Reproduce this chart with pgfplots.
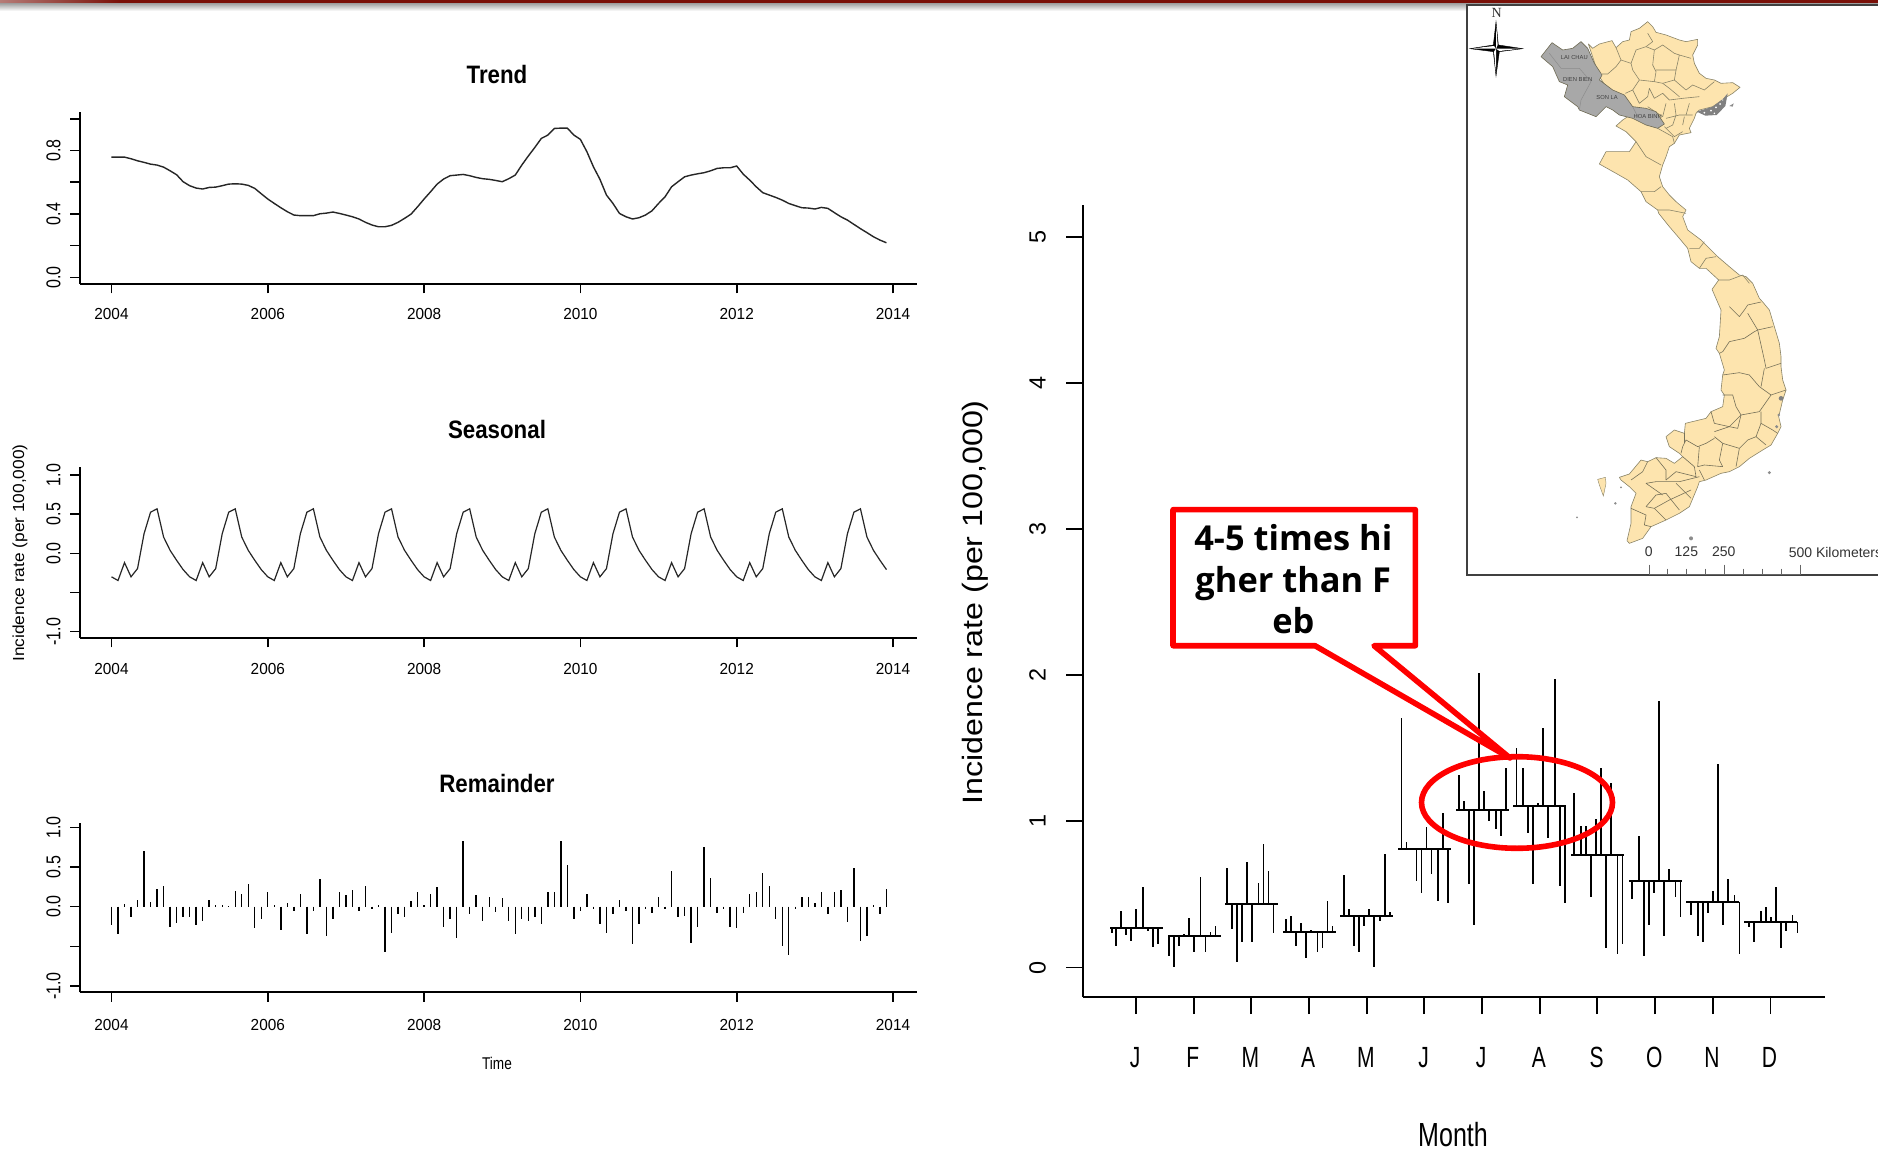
\documentclass[border=0pt]{standalone}
\usepackage{fontspec}
\setmainfont{Liberation Sans}
\newfontfamily\callfont{Open Sans}
\usepackage{pgfplots}
\usepackage{pgfplotstable}
\pgfplotsset{compat=1.18}
\definecolor{mapy}{HTML}{FDE4AE}
\definecolor{mapg}{HTML}{A8A8A8}
\definecolor{mapb}{HTML}{8A8468}
\definecolor{barred}{HTML}{7A1008}
\newcommand{\fs}[1]{\fontsize{#1}{#1}\selectfont}

\pgfplotstableread{
m dz mean v
1 -73 0.27 0.234
1 -59 0.27 0.149
1 -44 0.27 0.384
1 -29 0.27 0.220
1 -14 0.27 0.179
1 1 0.27 0.400
1 21 0.27 0.551
1 36 0.27 0.247
1 51 0.27 0.138
1 66 0.27 0.163
2 -75 0.213 0.081
2 -60 0.213 0.000
2 -45 0.213 0.149
2 -30 0.213 0.229
2 -15 0.213 0.341
2 0 0.213 0.108
2 20 0.213 0.622
2 35 0.213 0.108
2 50 0.213 0.245
2 65 0.213 0.286
3 -74 0.435 0.679
3 -59 0.435 0.263
3 -44 0.435 0.040
3 -29 0.435 0.177
3 -14 0.435 0.720
3 1 0.435 0.177
3 21 0.435 0.579
3 36 0.435 0.846
3 51 0.435 0.663
3 66 0.435 0.234
4 -70 0.241 0.330
4 -55 0.241 0.355
4 -40 0.241 0.149
4 -25 0.241 0.302
4 -10 0.241 0.067
4 5 0.241 0.259
4 25 0.241 0.108
4 40 0.241 0.136
4 55 0.241 0.453
4 70 0.241 0.286
5 -69 0.353 0.636
5 -54 0.353 0.398
5 -39 0.353 0.149
5 -24 0.353 0.108
5 -9 0.353 0.286
5 6 0.353 0.398
5 21 0.353 0.000
5 40 0.353 0.316
5 55 0.353 0.775
5 70 0.353 0.382
6 -69 0.811 1.711
6 -54 0.811 0.859
6 -39 0.811 0.807
6 -24 0.811 0.594
6 -9 0.811 0.512
6 6 0.811 0.960
6 21 0.811 0.638
6 41 0.811 0.458
6 56 0.811 1.056
6 71 0.811 0.444
7 -69 1.079 1.320
7 -54 1.079 1.140
7 -39 1.079 0.569
7 -24 1.079 0.291
7 -9 1.079 2.019
7 6 1.079 1.209
7 21 1.079 1.001
7 41 1.079 0.948
7 56 1.079 0.903
7 71 1.079 1.364
8 -70 1.106 1.501
8 -50 1.106 1.364
8 -35 1.106 0.919
8 -20 1.106 0.569
8 -5 1.106 1.124
8 10 1.106 1.642
8 25 1.106 0.889
8 45 1.106 1.978
8 60 1.106 0.556
8 75 1.106 0.444
9 -70 0.773 1.195
9 -50 0.773 0.971
9 -35 0.773 0.971
9 -20 0.773 0.485
9 -5 0.773 1.015
9 10 0.773 1.364
9 25 0.773 0.136
9 40 0.773 1.266
9 60 0.773 0.095
9 75 0.773 0.163
10 -69 0.592 0.471
10 -49 0.592 0.903
10 -34 0.592 0.081
10 -19 0.592 0.291
10 -4 0.592 0.512
10 11 0.592 1.823
10 26 0.592 0.218
10 41 0.592 0.677
10 61 0.592 0.485
10 76 0.592 0.348
11 -65 0.451 0.359
11 -45 0.451 0.218
11 -30 0.451 0.177
11 -15 0.451 0.373
11 0 0.451 0.524
11 15 0.451 1.391
11 30 0.451 0.291
11 45 0.451 0.608
11 65 0.451 0.499
11 80 0.451 0.095
12 -64 0.311 0.275
12 -49 0.311 0.177
12 -29 0.311 0.384
12 -14 0.311 0.412
12 1 0.311 0.343
12 16 0.311 0.553
12 31 0.311 0.136
12 46 0.311 0.247
12 66 0.311 0.357
12 81 0.311 0.234
}\monthdata

\pgfplotstableread{
m mean
1.01 0.27
2.01 0.213
3.00 0.435
4.00 0.241
5.00 0.353
6.00 0.811
7.00 1.079
8.00 1.106
9.00 0.773
10.00 0.592
11.00 0.451
12.00 0.311
}\monthmean

\pgfplotsset{
  leftpanel/.style={
    scale only axis, clip=false,
    axis x line*=bottom, axis y line*=left,
    width=418.5pt,
    xmin=2003.597, xmax=2014.307,
    xtick={2004,2006,2008,2010,2012,2014},
    xticklabels={2004,2006,2008,2010,2012,2014},
    tick align=outside,
    major tick length=4.8pt,
    axis line style={line width=0.9pt,black},
    tick style={line width=0.8pt,black},
    xticklabel style={font=\fs{8}, xscale=0.96, inner sep=0pt, text height=6pt},
    xticklabel shift=7pt,
    yticklabel style={font=\fs{10}, rotate=90, xscale=0.8, anchor=south, inner sep=0pt, text depth=0pt},
    yticklabel shift=4.8pt,
  }
}

\begin{document}
\begin{tikzpicture}
\clip (0pt,0pt) rectangle (939pt,-574.5pt);
\path[fill=white] (0pt,0pt) rectangle (939pt,-574.5pt);

% top bar and its soft shadow
\shade[top color=black!40, bottom color=white] (0pt,-1.35pt) rectangle (939pt,-5.5pt);
\shade[left color=barred!55, right color=barred] (0pt,0pt) rectangle (60pt,-1.35pt);
\fill[barred] (60pt,0pt) rectangle (939pt,-1.35pt);

% ---- Trend
\begin{axis}[leftpanel, at={(40pt,-141.85pt)}, anchor=south west,
  height=85.95pt, ymin=-0.04, ymax=1.044,
  ytick={0,0.2,0.4,0.6,0.8,1}, yticklabels={0.0,,0.4,,0.8,}]
\addplot[black!85, line width=0.7pt] table[row sep=crcr, header=false, x expr=2004+\coordindex/12, y index=0] {
0.758\\0.758\\0.758\\0.748\\0.735\\0.725\\0.714\\0.708\\0.695\\0.672\\0.647\\0.603\\
0.578\\0.563\\0.557\\0.567\\0.569\\0.578\\0.588\\0.590\\0.588\\0.580\\0.561\\0.527\\
0.494\\0.466\\0.439\\0.414\\0.393\\0.389\\0.389\\0.389\\0.401\\0.405\\0.412\\0.403\\
0.393\\0.382\\0.368\\0.347\\0.330\\0.319\\0.319\\0.328\\0.347\\0.372\\0.399\\0.445\\
0.494\\0.540\\0.588\\0.620\\0.641\\0.645\\0.649\\0.641\\0.630\\0.622\\0.618\\0.611\\
0.603\\0.622\\0.645\\0.708\\0.765\\0.819\\0.876\\0.897\\0.939\\0.941\\0.941\\0.897\\
0.870\\0.792\\0.697\\0.618\\0.519\\0.466\\0.403\\0.382\\0.368\\0.376\\0.393\\0.420\\
0.466\\0.508\\0.571\\0.603\\0.634\\0.645\\0.653\\0.660\\0.672\\0.687\\0.691\\0.691\\
0.702\\0.651\\0.613\\0.571\\0.534\\0.519\\0.504\\0.487\\0.466\\0.452\\0.439\\0.437\\
0.431\\0.441\\0.435\\0.408\\0.382\\0.361\\0.334\\0.307\\0.282\\0.256\\0.235\\0.218\\
};
\end{axis}

% ---- Seasonal
\begin{axis}[leftpanel, at={(40pt,-318.85pt)}, anchor=south west,
  height=85.2pt, ymin=-1.077, ymax=1.098, xticklabel shift=7.6pt,
  ytick={-1,-0.5,0,0.5,1}, yticklabels={-1.0,,0.0,0.5,1.0}]
\addplot[black!85, line width=0.6pt] table[row sep=crcr, header=false, x expr=2004+\coordindex/12, y index=0] {
-0.30\\-0.347\\-0.119\\-0.30\\-0.195\\0.25\\0.525\\0.568\\0.208\\0.038\\-0.089\\-0.208\\
-0.30\\-0.347\\-0.119\\-0.30\\-0.195\\0.25\\0.525\\0.568\\0.208\\0.038\\-0.089\\-0.208\\
-0.30\\-0.347\\-0.119\\-0.30\\-0.195\\0.25\\0.525\\0.568\\0.208\\0.038\\-0.089\\-0.208\\
-0.30\\-0.347\\-0.119\\-0.30\\-0.195\\0.25\\0.525\\0.568\\0.208\\0.038\\-0.089\\-0.208\\
-0.30\\-0.347\\-0.119\\-0.30\\-0.195\\0.25\\0.525\\0.568\\0.208\\0.038\\-0.089\\-0.208\\
-0.30\\-0.347\\-0.119\\-0.30\\-0.195\\0.25\\0.525\\0.568\\0.208\\0.038\\-0.089\\-0.208\\
-0.30\\-0.347\\-0.119\\-0.30\\-0.195\\0.25\\0.525\\0.568\\0.208\\0.038\\-0.089\\-0.208\\
-0.30\\-0.347\\-0.119\\-0.30\\-0.195\\0.25\\0.525\\0.568\\0.208\\0.038\\-0.089\\-0.208\\
-0.30\\-0.347\\-0.119\\-0.30\\-0.195\\0.25\\0.525\\0.568\\0.208\\0.038\\-0.089\\-0.208\\
-0.30\\-0.347\\-0.119\\-0.30\\-0.195\\0.25\\0.525\\0.568\\0.208\\0.038\\-0.089\\-0.208\\
};
\end{axis}

% ---- Remainder
\begin{axis}[leftpanel, at={(40pt,-496.15pt)}, anchor=south west,
  height=84.8pt, ymin=-1.08, ymax=1.059, xticklabel shift=8.2pt,
  ytick={-1,-0.5,0,0.5,1}, yticklabels={-1.0,,0.0,0.5,1.0}]
\addplot[ycomb, black, line width=0.7pt, no markers] table[row sep=crcr, header=false, x expr=2004+\coordindex/12, y index=0] {
-0.231\\-0.349\\0.034\\-0.134\\0.084\\0.706\\0.063\\0.223\\0.265\\-0.252\\-0.21\\-0.126\\
-0.134\\-0.231\\-0.176\\0.084\\0.025\\0.025\\0.008\\0.202\\0.164\\0.286\\-0.273\\-0.151\\
0.185\\0.025\\-0.294\\0.042\\-0.055\\0.164\\-0.349\\-0.05\\0.345\\-0.37\\-0.155\\0.185\\
0.147\\0.206\\-0.05\\0.265\\-0.034\\0.025\\-0.576\\-0.332\\-0.097\\-0.134\\0.067\\0.185\\
0.025\\0.164\\0.244\\-0.252\\-0.155\\-0.391\\0.828\\-0.097\\0.147\\-0.176\\0.126\\-0.071\\
0.105\\-0.176\\-0.349\\-0.155\\-0.176\\-0.134\\-0.214\\0.185\\0.185\\0.828\\0.525\\-0.155\\
-0.055\\0.164\\-0.034\\-0.214\\-0.332\\-0.092\\0.084\\-0.055\\-0.471\\-0.214\\-0.034\\-0.076\\
0.126\\-0.034\\0.445\\-0.134\\-0.113\\-0.454\\-0.252\\0.748\\0.366\\-0.076\\-0.034\\-0.252\\
-0.273\\-0.076\\0.164\\0.185\\0.424\\0.265\\-0.155\\-0.492\\-0.609\\-0.034\\0.126\\0.126\\
0.042\\0.185\\-0.092\\0.185\\0.206\\-0.193\\0.483\\-0.433\\-0.374\\0.025\\-0.092\\0.227\\
};
\end{axis}

% ---- Month plot
\begin{axis}[scale only axis, clip=false, at={(541.65pt,-498.5pt)}, anchor=south west,
  width=370.85pt, height=396pt,
  axis x line*=bottom, axis y line*=left,
  xmin=0.0862, xmax=12.947, ymin=-0.202, ymax=5.219,
  xtick={1,...,12}, xticklabels={J,F,M,A,M,J,J,A,S,O,N,D},
  ytick={0,1,2,3,4,5}, yticklabels={0,1,2,3,4,5},
  tick align=outside, major tick length=8.5pt,
  axis line style={line width=0.9pt,black},
  tick style={line width=0.9pt,black},
  xticklabel style={font=\fs{14.6}, xscale=0.72, xshift=-0.6pt, inner sep=0pt, text height=10.4pt},
  xticklabel shift=16.2pt,
  yticklabel style={font=\fs{11.7}, rotate=90, anchor=south, inner sep=0pt, text depth=0pt},
  yticklabel shift=10.2pt]
\addplot[draw=none, no markers, error bars/.cd, y dir=plus, y explicit, error mark=none,
  error bar style={draw=black, line width=0.85pt}]
  table[x expr=\thisrow{m}+\thisrow{dz}/173, y=mean, y error plus expr=\thisrow{v}-\thisrow{mean}] {\monthdata};
\addplot[draw=none, no markers, error bars/.cd, x dir=both, x fixed=0.46, error mark=none,
  error bar style={draw=black, line width=1pt}]
  table[x=m, y=mean] {\monthmean};
\end{axis}

% ---- texts and annotations in image pixels
\begin{scope}[x=0.5pt,y=-0.5pt]
\node[font=\bfseries\fs{12.6}, xscale=0.885] at (497,74) {Trend};
\node[font=\bfseries\fs{12.6}, xscale=0.885] at (497,429) {Seasonal};
\node[font=\bfseries\fs{12.6}, xscale=0.885] at (497,783) {Remainder};
\node[font=\fs{8}, rotate=90, xscale=1.08] at (20,553) {Incidence rate (per 100,000)};
\node[font=\fs{8.5}, xscale=0.8] at (497,1063) {Time};
\node[font=\fs{14}, rotate=90, xscale=1.15] at (975.5,602.5) {Incidence rate (per 100,000)};
\node[font=\fs{16.7}, xscale=0.75, inner sep=0pt] at (1453,1135) {Month};

% callout
\draw[red, line width=2.8pt, line join=round, fill=white]
  (1173,509.7) -- (1415.4,509.7) -- (1415.4,645.7) -- (1374,645.7) -- (1510,758) -- (1315,645.7) -- (1173,645.7) -- cycle;
\draw[red, line width=2.8pt] (1517,802.5) ellipse [x radius=95.5, y radius=45.8];
\node[font=\callfont\bfseries\fs{17.2}, black] at (1293.3,538) {4-5 times hi};
\node[font=\callfont\bfseries\fs{17.2}, black] at (1293.3,583.5) {gher than F};
\node[font=\callfont\bfseries\fs{17.2}, black] at (1293.3,620.7) {eb};

% map frame
\draw[black!75, line width=0.9pt, fill=white] (1900,5) -- (1467,5) -- (1467,575.3) -- (1900,575.3);
\end{scope}

% map in the units of the map crop
\begin{scope}[shift={(733pt,0pt)},x=0.16667pt,y=-0.16667pt]
\draw[mapb, fill=mapy, line width=0.3pt, line join=round]
(367,132)--(380,145)--(400,132)--(438,122)--(450,143)--(470,125)--(490,120)--(495,95)--(520,85)--(545,65)--(560,80)--(570,97)--(600,105)--(640,120)--(660,125)--(695,118)--(695,135)--(680,165)--(685,190)--(700,220)--(720,235)--(745,240)--(765,250)--(800,248)--(822,262)--(800,280)--(775,295)--(740,320)--(700,330)--(690,340)--(685,355)--(670,385)--(675,398)--(640,405)--(625,430)--(610,440)--(600,470)--(590,495)--(580,530)--(590,560)--(610,585)--(630,605)--(660,630)--(650,650)--(665,690)--(705,720)--(730,745)--(755,770)--(790,800)--(820,825)--(840,830)--(860,850)--(880,895)--(890,906)--(910,930)--(925,980)--(940,1030)--(945,1070)--(945,1100)--(950,1140)--(960,1170)--(950,1200)--(938,1250)--(945,1280)--(935,1300)--(915,1335)--(890,1350)--(850,1375)--(820,1400)--(790,1415)--(765,1420)--(720,1440)--(700,1445)--(695,1460)--(670,1520)--(640,1540)--(600,1560)--(555,1580)--(530,1615)--(490,1630)--(483,1622)--(495,1570)--(495,1520)--(510,1480)--(490,1460)--(465,1440)--(460,1432)--(490,1422)--(525,1380)--(545,1385)--(570,1373)--(600,1375)--(625,1390)--(650,1370)--(640,1360)--(610,1340)--(600,1310)--(625,1290)--(655,1300)--(658,1270)--(720,1255)--(735,1235)--(770,1220)--(775,1185)--(765,1170)--(770,1125)--(775,1110)--(760,1060)--(750,1045)--(760,1010)--(765,930)--(738,868)--(758,840)--(720,805)--(700,805)--(675,785)--(665,745)--(640,715)--(610,680)--(578,640)--(575,630)--(540,605)--(525,575)--(485,540)--(450,520)--(400,492)--(420,455)--(490,455)--(510,425)--(480,395)--(450,378)--(470,360)--(500,340)--(440,290)--(400,230)--cycle;
\fill[mapy,draw=mapb,line width=0.2pt] (395,1438)--(418,1432)--(420,1450)--(412,1488)--(400,1455)--cycle;
% northern provinces
\begin{scope}[mapb, line width=0.3pt, line join=round]
\draw (450,143)--(465,180)--(495,190)--(510,150)--(540,140)--(560,125)--(545,100);
\draw (465,180)--(450,200)--(425,222)--(408,222);
\draw (495,190)--(500,210)--(520,240)--(500,270)--(478,280);
\draw (540,140)--(565,150)--(560,195)--(570,215)--(565,245)--(520,240);
\draw (565,150)--(590,135)--(625,160)--(640,165)--(630,210)--(570,210);
\draw (640,165)--(675,175);
\draw (630,210)--(625,240)--(590,250)--(565,245);
\draw (625,240)--(660,270)--(680,255)--(715,270)--(745,245);
\draw (500,270)--(520,310)--(545,290)--(550,265)--(565,295)--(590,280)--(610,300);
\draw (590,250)--(610,265)--(640,290);
\draw (545,320)--(590,350)--(600,310);
\draw (610,300)--(650,295)--(700,290);
\draw (600,355)--(640,345)--(680,345);
\draw (625,310)--(630,345)--(620,375)--(600,385);
\draw (670,310)--(660,345);
\draw (595,380)--(625,410)--(650,395);
\draw (655,350)--(650,375);
\draw (510,425)--(540,470)--(585,495);
\draw (575,385)--(620,410)--(625,430);
\draw (525,575)--(565,575)--(585,560);
\draw (575,630)--(610,630)--(660,640);
\draw (670,745)--(700,745)--(715,725);
\draw (700,805)--(720,775)--(750,770);
\draw (758,840)--(790,840)--(830,825)--(850,850);
\end{scope}
% grey provinces
\draw[mapb!80!black, fill=mapg, line width=0.3pt, line join=round]
(225,170)--(258,128)--(290,150)--(320,145)--(345,125)--(365,145)--(385,190)--(408,225)--(400,240)--(440,270)--(475,285)--(500,320)--(540,325)--(570,335)--(595,372)--(575,385)--(540,375)--(500,355)--(460,345)--(440,330)--(420,320)--(390,350)--(340,330)--(335,320)--(295,290)--(305,255)--(280,245)--(260,200)--cycle;
\draw[black!45, line width=0.25pt] (250,160)--(285,205)--(340,205)--(375,245)--(345,300)--(340,330);
\draw[black!45, line width=0.25pt] (500,320)--(515,350);
\node[font=\fs{2.9},black!75] at (325,174) {LAI CHAU};
\node[font=\fs{2.9},black!75] at (335,240) {DIEN BIEN};
\node[font=\fs{2.9},black!75] at (423,293) {SON LA};
\node[font=\fs{2.9},black!75] at (545,350) {HOA BINH};
% Ha Long islands
\fill[black!50] (692,335)--(740,320)--(770,298)--(785,280)--(778,318)--(752,345)--(718,347)--cycle;
\fill[white] (715,338) circle (3) (735,332) circle (3) (750,322) circle (3) (762,312) circle (3) (745,340) circle (2.5) (770,300) circle (2);
\fill[black!45] (790,318)--(803,310)--(800,320)--cycle;
% compass
\fill[black] (90,65)--(97,135)--(170,146)--(100,155)--(90,228)--(82,155)--(12,146)--(82,135)--cycle;
\fill[white] (90,65)--(95,135)--(90,146)--cycle;
\fill[white] (170,146)--(100,153)--(90,146)--cycle;
\fill[white] (90,228)--(84,155)--(90,146)--cycle;
\fill[white] (12,146)--(84,138)--(90,146)--cycle;
\draw[black,line width=0.2pt] (90,65)--(97,135)--(170,146)--(100,155)--(90,228)--(82,155)--(12,146)--(82,135)--cycle;
\node[font=\fs{7}, black!80] at (92,38) {\fontspec{Liberation Serif}N};
% southern provinces
\begin{scope}[yshift=-145pt, mapb!85!black, line width=0.3pt, line join=round]
\draw (790,50)--(820,80)--(835,60)--(845,45)--(885,36);
\draw (845,70)--(875,120)--(920,110);
\draw (875,120)--(865,125)--(835,145)--(790,155)--(770,185)--(760,190);
\draw (875,120)--(895,210)--(900,235)--(945,220);
\draw (770,255)--(820,248)--(850,255)--(880,290)--(915,315)--(960,300);
\draw (895,235)--(885,290);
\draw (770,315)--(800,315)--(810,350)--(825,375)--(880,365)--(915,315);
\draw (885,365)--(885,400)--(920,420)--(935,430);
\draw (885,400)--(870,440)--(900,465);
\draw (735,365)--(745,400)--(790,410)--(825,375);
\draw (745,425)--(790,410)--(815,415)--(825,375);
\draw (745,440)--(770,460)--(820,475)--(845,450)--(870,440);
\draw (820,475)--(810,530);
\draw (745,445)--(720,460)--(695,470)--(660,450)--(650,470)--(645,490);
\draw (770,460)--(760,510)--(770,530)--(715,525)--(695,530)--(700,470);
\draw (655,430)--(655,460);
\draw (700,540)--(715,570);
\draw (690,560)--(630,545)--(600,570);
\draw (650,500)--(685,530)--(690,560);
\draw (570,503)--(600,540)--(600,570);
\draw (545,515)--(530,545)--(495,570);
\draw (700,560)--(640,575)--(600,575)--(570,575)--(540,580)--(590,615);
\draw (630,580)--(675,625);
\draw (600,610)--(640,660);
\draw (540,650)--(570,615)--(600,610);
\draw (495,655)--(540,675)--(535,705)--(555,710);
\draw (540,650)--(565,655)--(600,690);
\draw (565,655)--(610,630)--(675,600);
\end{scope}
\begin{scope}[yshift=-145pt]
\fill[black!50] (945,325) circle (7);
\fill[black!45] (938,375) circle (4);
\fill[black!45] (932,410) circle (5);
\fill[black!45] (910,548) circle (5);
\fill[black!45] (448,640) circle (4);
\fill[black!45] (675,745) circle (6);
\fill[black!45] (333,682) circle (3);
\fill[black!45] (465,592) circle (3);
\node[font=\fs{7},black!80] at (548,786) {0};
\node[font=\fs{7},black!80] at (661,786) {125};
\node[font=\fs{7},black!80] at (773,786) {250};
\node[font=\fs{7},black!80,anchor=west,inner sep=0pt] at (967,786) {500 Kilometers};
\draw[black!60,line width=0.3pt] (549,824)--(549,856) (605,836)--(605,856) (662,836)--(662,856) (718,836)--(718,856) (775,824)--(775,856) (832,836)--(832,856) (889,836)--(889,856) (945,836)--(945,856) (1003,824)--(1003,856);
\draw[black!60,line width=0.5pt] (549,853)--(1003,853);
\end{scope}
\end{scope}
\end{tikzpicture}
\end{document}
